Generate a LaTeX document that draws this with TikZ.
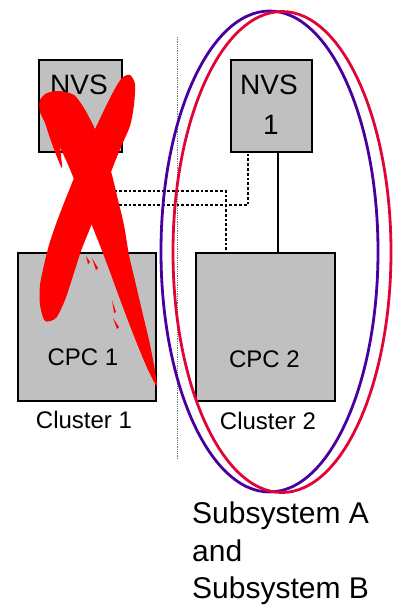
\documentclass[tikz,border=0pt]{standalone}
\usepackage{fontspec}
\setmainfont{Liberation Sans}
\definecolor{boxgray}{RGB}{192,192,192}
\definecolor{ringA}{RGB}{72,0,160}
\definecolor{ringB}{RGB}{225,5,55}
\definecolor{strike}{RGB}{255,0,0}
\definecolor{sepgray}{RGB}{120,120,120}

\begin{document}
\begin{tikzpicture}[x=1pt,y=-1pt,
  unit/.style={draw=black, line width=2.4pt, fill=boxgray, inner sep=0pt},
  lbl/.style={inner sep=0pt, anchor=base},
  nvsfont/.style={font=\fontsize{28}{34}\selectfont},
  cpcfont/.style={font=\fontsize{24}{28}\selectfont},
  subfont/.style={font=\fontsize{30}{36}\selectfont},
  dotline/.style={line width=2.2pt, dash pattern=on 2.8pt off 2pt},
  link/.style={line width=2.6pt},
  ring/.style={line width=2.8pt},
  xstroke/.style={fill=strike, draw=none}]

\useasboundingbox (0,0) rectangle (393,611);

% dotted divider between the two clusters
\draw[sepgray, line width=1pt, dash pattern=on 1pt off 0.8pt] (177,37) -- (177,460);

% units
\node[unit, minimum width=83, minimum height=92] (nvs2) at (80.5,106) {};
\node[unit, minimum width=81, minimum height=92] (nvs1) at (271.5,106) {};
\node[unit, minimum width=138, minimum height=148] (cpc1) at (87,327) {};
\node[unit, minimum width=139, minimum height=148] (cpc2) at (265.5,327) {};

% unit labels
\node[lbl, nvsfont] (nvs2a) at (79,94) {NVS};
\node[lbl, nvsfont] (nvs2b) at (81,134) {2};
\node[lbl, nvsfont] (nvs1a) at (269,94) {NVS};
\node[lbl, nvsfont] (nvs1b) at (271,134) {1};
\node[lbl, cpcfont] (cpc1t) at (83,365) {CPC 1};
\node[lbl, cpcfont] (cpc2t) at (264.5,367) {CPC 2};

% cluster captions
\node[lbl, cpcfont] (cl1) at (84,428) {Cluster 1};
\node[lbl, cpcfont] (cl2) at (268,429) {Cluster 2};

% subsystem caption
\node[lbl, subfont, anchor=base west] (sub1) at (192,523) {Subsystem A};
\node[lbl, subfont, anchor=base west] (sub2) at (192,561) {and};
\node[lbl, subfont, anchor=base west] (sub3) at (192,598) {Subsystem B};

% links
\coordinate (d1) at (95,191);
\coordinate (d2) at (95,205);
\draw[dotline] (d1) -| ([xshift=31]cpc2.north west);
\draw[dotline] (d2) -| ([xshift=-23.5]nvs1.south);
\draw[link] ([xshift=6.5]nvs1.south) -- ([xshift=12.5]cpc2.north);

% subsystem rings
\draw[ring, ringA] (269.5,251.5) ellipse [x radius=108.5, y radius=240.5];
\draw[ring, ringB] (282,252) ellipse [x radius=109, y radius=240.5];

% crossed-out cluster 1
\fill[xstroke] plot[smooth cycle, tension=0.45] coordinates {
  (40,100) (47,93) (60,91) (74,95) (84,108) (94,127) (104,150) (112,175)
  (118,200) (124,225) (129,255) (136,285) (143,315) (149,340) (154,365)
  (157,386) (150,374) (142,356) (132,331) (121,302) (110,272) (99,243)
  (87,213) (76,184) (66,160) (56,140) (46,124) (40,112)};
\fill[xstroke] plot[smooth cycle, tension=0.45] coordinates {
  (130,75) (135,84) (134,105) (130,126) (121,147) (111,172) (101,201)
  (91,226) (81,251) (73,276) (65,300) (56,318) (45,321) (40,305) (40,285)
  (44,265) (49,245) (56,224) (64,203) (74,178) (84,152) (96,127)
  (108,102) (117,85) (123,77)};
\fill[xstroke] plot[smooth cycle, tension=0.45] coordinates {
  (42,110) (48,132) (55,152) (62,168) (60,148) (58,132) (56,120)};
\fill[xstroke] (86,256) -- (90,262) -- (88,264) -- cycle;
\fill[xstroke] (92,258) -- (98,268) -- (96,270) -- cycle;
\fill[xstroke] (112,300) -- (116,312) -- (114,313) -- cycle;
\fill[xstroke] (113,318) -- (119,327) -- (117,329) -- cycle;
\end{tikzpicture}
\end{document}
